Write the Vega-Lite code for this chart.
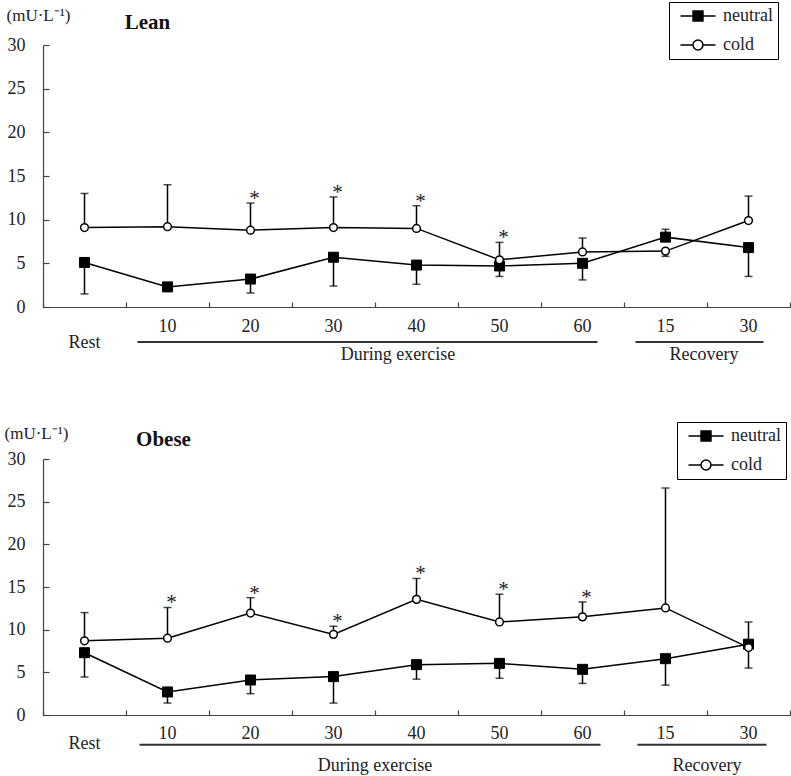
{
  "$schema": "https://vega.github.io/schema/vega-lite/v6.json",
  "padding": {"left": 4, "top": 1, "right": 0, "bottom": 0},
  "background": "white",
  "config": {
    "view": {"stroke": null},
    "font": "Liberation Serif",
    "axis": {"domainColor": "#444", "tickColor": "#444", "domainWidth": 1.2, "tickWidth": 1.2, "labelFont": "Liberation Serif", "labelFontSize": 18, "labelColor": "#222", "grid": false},
    "legend": {"orient": "none", "title": null, "strokeColor": "black", "fillColor": "white", "padding": 5, "labelFont": "Liberation Serif", "labelFontSize": 18, "labelColor": "#222", "symbolSize": 196, "symbolStrokeColor": "black", "symbolStrokeWidth": 1.5, "symbolOpacity": 1, "symbolOffset": 15, "labelOffset": 16, "rowPadding": 11}
  },
  "datasets": {
    "lean": [
      {"t": 0, "label": "Rest", "cond": "neutral", "mean": 5.1, "err": 1.5, "star": ""},
      {"t": 0, "label": "Rest", "cond": "cold", "mean": 9.1, "err": 13.0, "star": ""},
      {"t": 1, "label": "10", "cond": "neutral", "mean": 2.3, "err": 2.0, "star": ""},
      {"t": 1, "label": "10", "cond": "cold", "mean": 9.2, "err": 14.0, "star": ""},
      {"t": 2, "label": "20", "cond": "neutral", "mean": 3.2, "err": 1.6, "star": ""},
      {"t": 2, "label": "20", "cond": "cold", "mean": 8.8, "err": 11.9, "star": "*"},
      {"t": 3, "label": "30", "cond": "neutral", "mean": 5.7, "err": 2.4, "star": ""},
      {"t": 3, "label": "30", "cond": "cold", "mean": 9.1, "err": 12.6, "star": "*"},
      {"t": 4, "label": "40", "cond": "neutral", "mean": 4.8, "err": 2.6, "star": ""},
      {"t": 4, "label": "40", "cond": "cold", "mean": 9.0, "err": 11.6, "star": "*"},
      {"t": 5, "label": "50", "cond": "neutral", "mean": 4.7, "err": 3.5, "star": ""},
      {"t": 5, "label": "50", "cond": "cold", "mean": 5.4, "err": 7.4, "star": "*"},
      {"t": 6, "label": "60", "cond": "neutral", "mean": 5.0, "err": 3.1, "star": ""},
      {"t": 6, "label": "60", "cond": "cold", "mean": 6.3, "err": 7.9, "star": ""},
      {"t": 7, "label": "15", "cond": "neutral", "mean": 8.0, "err": 8.9, "star": ""},
      {"t": 7, "label": "15", "cond": "cold", "mean": 6.4, "err": 5.8, "star": ""},
      {"t": 8, "label": "30", "cond": "neutral", "mean": 6.8, "err": 3.5, "star": ""},
      {"t": 8, "label": "30", "cond": "cold", "mean": 9.9, "err": 12.7, "star": ""}
    ],
    "obese": [
      {"t": 0, "label": "Rest", "cond": "neutral", "mean": 7.3, "err": 4.45, "star": ""},
      {"t": 0, "label": "Rest", "cond": "cold", "mean": 8.7, "err": 12.0, "star": ""},
      {"t": 1, "label": "10", "cond": "neutral", "mean": 2.7, "err": 1.4, "star": ""},
      {"t": 1, "label": "10", "cond": "cold", "mean": 9.0, "err": 12.6, "star": "*"},
      {"t": 2, "label": "20", "cond": "neutral", "mean": 4.1, "err": 2.5, "star": ""},
      {"t": 2, "label": "20", "cond": "cold", "mean": 11.95, "err": 13.75, "star": "*"},
      {"t": 3, "label": "30", "cond": "neutral", "mean": 4.5, "err": 1.4, "star": ""},
      {"t": 3, "label": "30", "cond": "cold", "mean": 9.45, "err": 10.4, "star": "*"},
      {"t": 4, "label": "40", "cond": "neutral", "mean": 5.9, "err": 4.2, "star": ""},
      {"t": 4, "label": "40", "cond": "cold", "mean": 13.55, "err": 16.0, "star": "*"},
      {"t": 5, "label": "50", "cond": "neutral", "mean": 6.05, "err": 4.3, "star": ""},
      {"t": 5, "label": "50", "cond": "cold", "mean": 10.9, "err": 14.15, "star": "*"},
      {"t": 6, "label": "60", "cond": "neutral", "mean": 5.35, "err": 3.7, "star": ""},
      {"t": 6, "label": "60", "cond": "cold", "mean": 11.5, "err": 13.25, "star": "*"},
      {"t": 7, "label": "15", "cond": "neutral", "mean": 6.6, "err": 3.5, "star": ""},
      {"t": 7, "label": "15", "cond": "cold", "mean": 12.55, "err": 26.6, "star": ""},
      {"t": 8, "label": "30", "cond": "neutral", "mean": 8.3, "err": 10.9, "star": ""},
      {"t": 8, "label": "30", "cond": "cold", "mean": 7.9, "err": 5.5, "star": ""}
    ],
    "groups": [
      {"group": "During exercise", "first": 1, "last": 6, "mid": 3.5},
      {"group": "Recovery", "first": 7, "last": 8, "mid": 7.5}
    ]
  },
  "resolve": {"scale": {"shape": "independent", "fill": "independent", "stroke": "independent"}},
  "spacing": 56,
  "vconcat": [
    {
      "width": 747,
      "height": 262,
      "data": {"name": "lean"},
      "encoding": {
        "x": {"field": "t", "type": "quantitative", "scale": {"domain": [-0.5, 8.5], "nice": false, "zero": false},
          "axis": {"values": [-0.5, 0.5, 1.5, 2.5, 3.5, 4.5, 5.5, 6.5, 7.5, 8.5], "labels": false, "tickSize": -5, "title": null}}
      },
      "layer": [
        {
          "mark": {"type": "line", "color": "black", "strokeWidth": 1.5},
          "encoding": {
            "y": {"field": "mean", "type": "quantitative", "scale": {"domain": [0, 30], "nice": false},
              "axis": {"values": [0, 5, 10, 15, 20, 25, 30], "tickSize": -6, "labelPadding": 24, "title": "(mU·L⁻¹)", "titleAngle": 0, "titleX": -37, "titleY": -30, "titleAlign": "left", "titleBaseline": "middle", "titleFont": "Liberation Serif", "titleFontSize": 17, "titleFontWeight": "normal", "titleColor": "#222"}},
            "detail": {"field": "cond"}
          }
        },
        {
          "mark": {"type": "rule", "color": "black", "strokeWidth": 1.5},
          "encoding": {"y": {"field": "mean", "type": "quantitative"}, "y2": {"field": "err"}}
        },
        {
          "mark": {"type": "tick", "orient": "horizontal", "size": 8, "thickness": 1.5, "color": "black"},
          "encoding": {"y": {"field": "err", "type": "quantitative"}}
        },
        {
          "transform": [{"filter": "datum.cond == 'neutral'"}],
          "mark": {"type": "point", "shape": "square", "filled": true, "fill": "black", "stroke": "black", "strokeWidth": 1, "size": 100, "opacity": 1},
          "encoding": {"y": {"field": "mean", "type": "quantitative"}}
        },
        {
          "transform": [{"filter": "datum.cond == 'cold'"}],
          "mark": {"type": "point", "shape": "circle", "filled": true, "fill": "white", "stroke": "black", "strokeWidth": 1.5, "size": 60, "opacity": 1},
          "encoding": {"y": {"field": "mean", "type": "quantitative"}}
        },
        {
          "transform": [{"filter": "datum.star != ''"}],
          "mark": {"type": "text", "font": "Liberation Serif", "fontSize": 21, "color": "#222", "baseline": "alphabetic", "dx": 4, "dy": 2},
          "encoding": {"y": {"field": "err", "type": "quantitative"}, "text": {"field": "star"}}
        },
        {
          "transform": [{"filter": "datum.cond == 'neutral' && datum.t > 0"}],
          "mark": {"type": "text", "font": "Liberation Serif", "fontSize": 18, "color": "#222", "baseline": "middle"},
          "encoding": {"y": {"datum": -2.3}, "text": {"field": "label"}}
        },
        {
          "transform": [{"filter": "datum.cond == 'neutral' && datum.t == 0"}],
          "mark": {"type": "text", "font": "Liberation Serif", "fontSize": 18, "color": "#222", "baseline": "middle"},
          "encoding": {"y": {"datum": -4.1}, "text": {"field": "label"}}
        },
        {
          "transform": [{"filter": "datum.cond == 'neutral' && datum.t == 0"}],
          "mark": {"type": "text", "font": "Liberation Serif", "fontSize": 21, "fontWeight": "bold", "color": "#111", "baseline": "middle", "dx": 63},
          "encoding": {"y": {"datum": 32.5}, "text": {"value": "Lean"}}
        },
        {
          "data": {"name": "groups"},
          "mark": {"type": "rule", "color": "#333", "strokeWidth": 2, "xOffset": -30, "x2Offset": 15},
          "encoding": {"x": {"field": "first", "type": "quantitative"}, "x2": {"field": "last"}, "y": {"datum": -4.0}}
        },
        {
          "data": {"name": "groups"},
          "transform": [{"filter": "datum.group == 'During exercise'"}],
          "mark": {"type": "text", "font": "Liberation Serif", "fontSize": 18, "color": "#222", "baseline": "middle", "dx": 23},
          "encoding": {"x": {"field": "mid", "type": "quantitative"}, "y": {"datum": -5.5}, "text": {"field": "group"}}
        },
        {
          "data": {"name": "groups"},
          "transform": [{"filter": "datum.group == 'Recovery'"}],
          "mark": {"type": "text", "font": "Liberation Serif", "fontSize": 18, "color": "#222", "baseline": "middle", "dx": -3},
          "encoding": {"x": {"field": "mid", "type": "quantitative"}, "y": {"datum": -5.5}, "text": {"field": "group"}}
        },
        {
          "transform": [{"filter": "false"}],
          "mark": {"type": "point", "filled": true, "opacity": 1, "strokeWidth": 1.5},
          "encoding": {
            "y": {"field": "mean", "type": "quantitative"},
            "shape": {"field": "cond", "type": "nominal", "scale": {"domain": ["neutral", "cold"], "range": ["M-2.5,0H2.5M-0.71,-0.71H0.71V0.71H-0.71Z", "M-2.5,0H-0.71M0.71,0H2.5M-0.71,0A0.71,0.71 0 1,0 0.71,0A0.71,0.71 0 1,0 -0.71,0Z"]},
              "legend": {"legendX": 626, "legendY": -43}},
            "fill": {"field": "cond", "type": "nominal", "scale": {"domain": ["neutral", "cold"], "range": ["black", "white"]},
              "legend": {"legendX": 626, "legendY": -43}},
            "stroke": {"field": "cond", "type": "nominal", "scale": {"domain": ["neutral", "cold"], "range": ["black", "black"]},
              "legend": {"legendX": 626, "legendY": -43}}
          }
        }
      ]
    },
    {
      "width": 747,
      "height": 256,
      "data": {"name": "obese"},
      "encoding": {
        "x": {"field": "t", "type": "quantitative", "scale": {"domain": [-0.5, 8.5], "nice": false, "zero": false},
          "axis": {"values": [-0.5, 0.5, 1.5, 2.5, 3.5, 4.5, 5.5, 6.5, 7.5, 8.5], "labels": false, "tickSize": -5, "title": null}}
      },
      "layer": [
        {
          "mark": {"type": "line", "color": "black", "strokeWidth": 1.5},
          "encoding": {
            "y": {"field": "mean", "type": "quantitative", "scale": {"domain": [0, 30], "nice": false},
              "axis": {"values": [0, 5, 10, 15, 20, 25, 30], "tickSize": -6, "labelPadding": 24, "title": "(mU·L⁻¹)", "titleAngle": 0, "titleX": -39, "titleY": -26, "titleAlign": "left", "titleBaseline": "middle", "titleFont": "Liberation Serif", "titleFontSize": 17, "titleFontWeight": "normal", "titleColor": "#222"}},
            "detail": {"field": "cond"}
          }
        },
        {
          "mark": {"type": "rule", "color": "black", "strokeWidth": 1.5},
          "encoding": {"y": {"field": "mean", "type": "quantitative"}, "y2": {"field": "err"}}
        },
        {
          "mark": {"type": "tick", "orient": "horizontal", "size": 8, "thickness": 1.5, "color": "black"},
          "encoding": {"y": {"field": "err", "type": "quantitative"}}
        },
        {
          "transform": [{"filter": "datum.cond == 'neutral'"}],
          "mark": {"type": "point", "shape": "square", "filled": true, "fill": "black", "stroke": "black", "strokeWidth": 1, "size": 100, "opacity": 1},
          "encoding": {"y": {"field": "mean", "type": "quantitative"}}
        },
        {
          "transform": [{"filter": "datum.cond == 'cold'"}],
          "mark": {"type": "point", "shape": "circle", "filled": true, "fill": "white", "stroke": "black", "strokeWidth": 1.5, "size": 60, "opacity": 1},
          "encoding": {"y": {"field": "mean", "type": "quantitative"}}
        },
        {
          "transform": [{"filter": "datum.star != ''"}],
          "mark": {"type": "text", "font": "Liberation Serif", "fontSize": 21, "color": "#222", "baseline": "alphabetic", "dx": 4, "dy": 2},
          "encoding": {"y": {"field": "err", "type": "quantitative"}, "text": {"field": "star"}}
        },
        {
          "transform": [{"filter": "datum.cond == 'neutral' && datum.t > 0"}],
          "mark": {"type": "text", "font": "Liberation Serif", "fontSize": 18, "color": "#222", "baseline": "middle"},
          "encoding": {"y": {"datum": -2.23}, "text": {"field": "label"}}
        },
        {
          "transform": [{"filter": "datum.cond == 'neutral' && datum.t == 0"}],
          "mark": {"type": "text", "font": "Liberation Serif", "fontSize": 18, "color": "#222", "baseline": "middle"},
          "encoding": {"y": {"datum": -3.4}, "text": {"field": "label"}}
        },
        {
          "transform": [{"filter": "datum.cond == 'neutral' && datum.t == 0"}],
          "mark": {"type": "text", "font": "Liberation Serif", "fontSize": 21, "fontWeight": "bold", "color": "#111", "baseline": "middle", "dx": 79},
          "encoding": {"y": {"datum": 32.2}, "text": {"value": "Obese"}}
        },
        {
          "data": {"name": "groups"},
          "mark": {"type": "rule", "color": "#333", "strokeWidth": 2, "xOffset": -28, "x2Offset": 18},
          "encoding": {"x": {"field": "first", "type": "quantitative"}, "x2": {"field": "last"}, "y": {"datum": -3.5}}
        },
        {
          "data": {"name": "groups"},
          "mark": {"type": "text", "font": "Liberation Serif", "fontSize": 18, "color": "#222", "baseline": "middle"},
          "encoding": {"x": {"field": "mid", "type": "quantitative"}, "y": {"datum": -6.0}, "text": {"field": "group"}}
        },
        {
          "transform": [{"filter": "false"}],
          "mark": {"type": "point", "filled": true, "opacity": 1, "strokeWidth": 1.5},
          "encoding": {
            "y": {"field": "mean", "type": "quantitative"},
            "shape": {"field": "cond", "type": "nominal", "scale": {"domain": ["neutral", "cold"], "range": ["M-2.5,0H2.5M-0.71,-0.71H0.71V0.71H-0.71Z", "M-2.5,0H-0.71M0.71,0H2.5M-0.71,0A0.71,0.71 0 1,0 0.71,0A0.71,0.71 0 1,0 -0.71,0Z"]},
              "legend": {"legendX": 634, "legendY": -37}},
            "fill": {"field": "cond", "type": "nominal", "scale": {"domain": ["neutral", "cold"], "range": ["black", "white"]},
              "legend": {"legendX": 634, "legendY": -37}},
            "stroke": {"field": "cond", "type": "nominal", "scale": {"domain": ["neutral", "cold"], "range": ["black", "black"]},
              "legend": {"legendX": 634, "legendY": -37}}
          }
        }
      ]
    }
  ]
}
